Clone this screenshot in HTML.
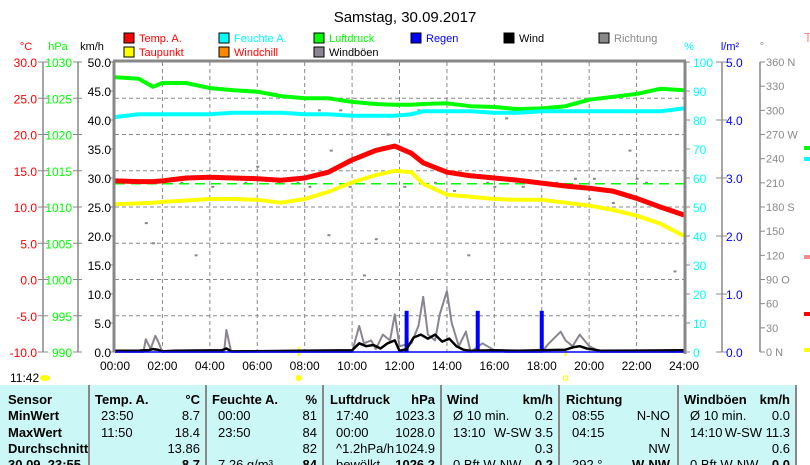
<!DOCTYPE html>
<html><head><meta charset="utf-8">
<style>
body{margin:0;background:#fff;font-family:"Liberation Sans",sans-serif;}
#wrap{position:relative;width:810px;height:465px;overflow:hidden;background:#fff;}
svg text{font-family:"Liberation Sans",sans-serif;}
#chart{position:absolute;left:0;top:0;}
#tbl{position:absolute;left:0;top:385px;width:797px;height:80px;background:#ccf7f7;font-size:13px;color:#000;}
.col{position:absolute;top:0;height:80px;border-left:2px solid #888;}
.cell{position:absolute;white-space:nowrap;}
.b{font-weight:bold;}
</style></head><body>
<div id="wrap">
<svg id="chart" width="810" height="385"></svg>
<div id="tbl"></div>
</div>
<script>
const hours=[0,1,1.6,2,3,4,5,6,7,8,9,10,11,11.8,12.5,13,14,15,16,17,18,19,20,21,22,23,24];
const tempVals=[13.6,13.5,13.5,13.6,14.0,14.1,14.0,13.9,13.7,14.0,14.8,16.5,17.8,18.4,17.4,16.1,14.8,14.3,14.0,13.7,13.3,12.9,12.6,12.2,11.2,10.0,8.9];
const dewVals=[10.4,10.5,10.6,10.7,10.9,11.1,11.1,11.0,10.6,11.1,12.1,13.4,14.4,15.0,14.8,13.2,11.7,11.4,11.1,11.0,11.0,10.6,10.2,9.6,8.8,7.7,6.0];
const pressVals=[1027.9,1027.7,1026.6,1027.1,1027.1,1026.4,1026.1,1025.9,1025.3,1025.0,1025.0,1024.5,1024.2,1024.1,1024.1,1024.2,1024.3,1023.9,1023.8,1023.5,1023.6,1023.9,1024.8,1025.2,1025.6,1026.3,1026.1];
const humVals=[81,82,82,82,82,82,82.5,82.5,82.5,82,82,81.5,81.5,81.5,82,83,83,83,82.5,82.5,83,83,83,83,83,83,84];
const windTimes=[0,1,1.2,1.4,1.6,1.8,2,2.5,4.5,4.7,4.9,7.8,10,10.3,10.6,10.9,11.2,11.5,11.8,12,12.3,12.6,12.9,13.2,13.5,13.8,14.1,14.4,14.7,15,16,17,18,19,19.3,19.6,19.9,20.5,24];
const windVals=[0.2,0.2,0.3,0.3,0.5,0.4,0.1,0.2,0.3,0.6,0.1,0.2,0.3,1.5,1.0,1.2,0.6,1.5,2.0,0.2,0.5,2.5,3.0,2.3,3.0,1.8,2.3,1.0,0.4,0.2,0.3,0.2,0.3,0.4,0.8,1.0,0.6,0.2,0.3];
const gustTimes=[0,1.2,1.3,1.5,1.7,1.8,2,4.6,4.7,4.9,10,10.3,10.5,10.8,11,11.3,11.6,11.8,12,12.5,12.8,13,13.2,13.5,13.7,14,14.2,14.5,14.8,15,15.5,16,16.5,17,17.5,18,18.3,18.8,19,19.3,19.6,20,20.5,24];
const gustVals=[0,0,2.2,0.5,2.8,2.0,0,0,3.8,0,0,4.5,1.5,2.0,0.5,3.0,2.0,6.5,1.0,1.5,4.5,9.5,3.0,2.0,6.5,10.5,5.0,1.0,3.5,0,1.5,0.3,0,0,0,0,1.5,3.5,2.0,1.0,3.0,1.0,0,0];
const rainTimes=[12.3,15.3,18.0];
const rainVals=[0.71,0.71,0.71];
const dirTimes=[1.3,1.6,2.8,3.4,4.1,5.5,6.9,7.7,8.2,8.6,9.1,9.5,9.9,10.5,11.0,11.5,12.2,12.8,13.5,14.3,14.9,15.7,16.5,17.2,17.9,18.6,19.4,20.2,21.0,21.7,22.4,23.1,23.6,3.0,6.0,9.0,13.0,16.0,20.0,22.0];
const dirVals=[160,135,210,120,205,210,210,210,205,300,250,300,205,95,140,270,205,300,210,200,120,210,290,205,300,210,215,215,185,250,210,300,100,215,230,145,300,205,190,215];
const tempTicks=[30,25,20,15,10,5,0,-5,-10];
const pressTicks=[1030,1025,1020,1015,1010,1005,1000,995,990];
const kmTicks=[50,45,40,35,30,25,20,15,10,5,0];
const humTicks=[100,90,80,70,60,50,40,30,20,10,0];
const rainTicks=[5,4,3,2,1,0];
const NS='http://www.w3.org/2000/svg';
const svg=document.getElementById('chart');
const X0=115,X1=684,Y0=62,Y1=352;
const xS=t=>X0+t*(X1-X0)/24;
const yKm=v=>Y1-v*(Y1-Y0)/50;
const yT=v=>Y1-(v+10)*(Y1-Y0)/40;
const yP=v=>Y1-(v-990)*(Y1-Y0)/40;
const yH=v=>Y1-v*(Y1-Y0)/100;
const yR=v=>Y1-v*(Y1-Y0)/5;
const yD=v=>Y1-v*(Y1-Y0)/360;
function mk(tag,attrs,parent){const e=document.createElementNS(NS,tag);for(const k in attrs)e.setAttribute(k,attrs[k]);(parent||svg).appendChild(e);return e;}
function txt(x,y,s,fill,anchor,size){const e=mk('text',{x:x,y:y,fill:fill,'font-size':size||12,'text-anchor':anchor||'start'});e.textContent=s;return e;}
let t=txt(405,22,'Samstag, 30.09.2017','#000','middle',15);

const leg=[['Temp. A.','#f00','#f00',123,42],['Feuchte A.','#0ff','#0ff',218,42],['Luftdruck','#0f0','#0f0',313,42],['Regen','#00f','#00f',410,42],['Wind','#000','#000',503,42],['Richtung','#888','#888',598,42],['Taupunkt','#ff0','#f00',123,56],['Windchill','#f80','#f00',218,56],['Windböen','#8a8490','#000',313,56]];
leg.forEach(l=>{const g=mk('g',{});
mk('rect',{x:l[3]+1,y:l[4]-9,width:10,height:10,fill:l[1],stroke:'#000','stroke-width':1},g);
const e=txt(l[3]+16,l[4],l[0],l[2],'start',11);g.appendChild(e);});
[['°C',26,'#f00'],['hPa',58,'#0f0'],['km/h',92,'#000'],['%',689,'#0ff'],['l/m²',730,'#00f'],['°',762,'#888']].forEach(u=>{const e=txt(u[1],50,u[0],u[2],'middle',11);});
txt(804,42,'T','#f88','start',13);
for(let i=1;i<8;i++){const y=Y0+i*(Y1-Y0)/8;mk('line',{x1:X0,x2:X1,y1:y,y2:y,stroke:'#888','stroke-dasharray':'4,3'});}
for(let h=2;h<24;h+=2){mk('line',{x1:xS(h),x2:xS(h),y1:Y0,y2:Y1,stroke:'#888','stroke-dasharray':'4,3'});}
mk('line',{x1:43,x2:43,y1:Y0,y2:Y1,stroke:'#888','stroke-width':1.5});
mk('line',{x1:78,x2:78,y1:Y0,y2:Y1,stroke:'#888','stroke-width':1.5});
tempTicks.forEach(v=>{const y=yT(v);mk('line',{x1:38,x2:48,y1:y,y2:y,stroke:'#888'});txt(37,y+5,v.toFixed(1),'#f00','end',12);});
pressTicks.forEach(v=>{const y=yP(v);mk('line',{x1:73,x2:82,y1:y,y2:y,stroke:'#888'});txt(72,y+5,String(v),'#0f0','end',12);});
kmTicks.forEach(v=>{const y=yKm(v);mk('line',{x1:110,x2:115,y1:y,y2:y,stroke:'#888'});txt(111,y+5,v.toFixed(1),'#000','end',12);});
humTicks.forEach(v=>{const y=yH(v);mk('line',{x1:684,x2:690,y1:y,y2:y,stroke:'#888'});txt(693,y+5,String(v),'#0ff','start',12);});
mk('line',{x1:722,x2:722,y1:Y0,y2:Y1,stroke:'#888','stroke-width':1.5});
mk('line',{x1:760,x2:760,y1:Y0,y2:Y1,stroke:'#888','stroke-width':1.5});
rainTicks.forEach(v=>{const y=yR(v);mk('line',{x1:716,x2:727,y1:y,y2:y,stroke:'#888'});txt(726,y+5,v.toFixed(1),'#00f','start',12);});
const dLab=['360 N','330','300','270 W','240','210','180 S','150','120','90  O','60','30','0   N'];
dLab.forEach((s,i)=>{const y=Y0+i*(Y1-Y0)/12;mk('line',{x1:760,x2:765,y1:y,y2:y,stroke:'#888'});const e=txt(766,y+4,s,'#888','start',11);e.setAttribute('xml:space','preserve');});
for(let h=0;h<=24;h+=2){txt(xS(h),370,(h<10?'0':'')+h+':00','#000','middle',12);}
txt(10,382,'11:42','#000','start',12);
mk('ellipse',{cx:45,cy:378,rx:5,ry:3,fill:'#ff0'});
mk('line',{x1:xS(7.75),x2:xS(7.75),y1:347,y2:356,stroke:'#ff0','stroke-width':2});
mk('circle',{cx:xS(7.75),cy:378,r:3,fill:'#ff0'});
mk('line',{x1:xS(19),x2:xS(19),y1:349,y2:356,stroke:'#ff0','stroke-width':2});
mk('rect',{x:xS(19)-2,y:376,width:4,height:4,fill:'none',stroke:'#ff0'});
dirTimes.forEach((h,i)=>{const r=mk('rect',{x:xS(h)-1,y:yD(dirVals[i])-1,width:3,height:2,fill:'#888'});});
mk('line',{x1:X0,x2:X1,y1:yT(13.2),y2:yT(13.2),stroke:'#0f0','stroke-width':1.5,'stroke-dasharray':'10,6'});
function line(xs,vals,yf,color,w,name){const p=xs.map((h,i)=>xS(h).toFixed(1)+','+yf(vals[i]).toFixed(1)).join(' ');const e=mk('polyline',{points:p,fill:'none',stroke:color,'stroke-width':w,'stroke-linejoin':'round'});}
line(gustTimes,gustVals,yKm,'#8a8490',2,'gust-line');
rainTimes.forEach((h,i)=>{const r=mk('rect',{x:xS(h)-2,y:yR(rainVals[i]),width:4,height:Y1-yR(rainVals[i]),fill:'#00f'});});
line(windTimes,windVals,yKm,'#000',2.5,'wind-line');
mk('line',{x1:X0,x2:X1,y1:Y1,y2:Y1,stroke:'#00f','stroke-width':1.5});
line(hours,pressVals,yP,'#0f0',4,'pressure-line');
line(hours,humVals,yH,'#0ff',4,'humidity-line');
line(hours,dewVals,yT,'#ff0',4,'dewpoint-line');
line(hours,tempVals,yT,'#f00',5,'temperature-line');
mk('line',{x1:X0-1,x2:X0-1,y1:Y0-1,y2:Y1,stroke:'#888','stroke-width':3});
mk('line',{x1:X0-2,x2:X1+2,y1:Y0-1,y2:Y0-1,stroke:'#888','stroke-width':3});
mk('line',{x1:X1+1,x2:X1+1,y1:Y0-1,y2:Y1+2,stroke:'#888','stroke-width':3});
[[146,'#0f0'],[157,'#0ff'],[255,'#f88'],[312,'#f00'],[348,'#ff0']].forEach(m=>mk('rect',{x:804,y:m[0],width:6,height:4,fill:m[1]}));
const tb=document.getElementById('tbl');
[88,205,322,440,558,677,795].forEach(x=>{const d=document.createElement('div');d.className='col';d.style.left=x+'px';tb.appendChild(d);});
const rows=[19,35,52,68,84];
function cell(x,r,s,cls,w){const d=document.createElement('div');d.className='cell '+(cls||'');d.style.top=(rows[r]-12)+'px';if(w){d.style.left=(x-w)+'px';d.style.width=w+'px';d.style.textAlign='right';}else d.style.left=x+'px';d.textContent=s;tb.appendChild(d);}
['Sensor','MinWert','MaxWert','Durchschnitt','30.09. 23:55'].forEach((s,i)=>cell(8,i,s,'b'));
const cols=[
[95,200,['Temp. A.','°C'],[['23:50','8.7'],['11:50','18.4'],['','13.86'],['','8.7']]],
[212,317,['Feuchte A.','%'],[['00:00','81'],['23:50','84'],['','82'],['7.26 g/m³','84']]],
[330,435,['Luftdruck','hPa'],[['17:40','1023.3'],['00:00','1028.0'],['^1.2hPa/h','1024.9'],['bewölkt','1026.2']]],
[447,553,['Wind','km/h'],[['Ø 10 min.','0.2'],['  13:10','W-SW 3.5'],['','0.3'],['0 Bft W-NW','0.2']]],
[566,670,['Richtung',''],[['08:55','N-NO'],['04:15','N'],['','NW'],['292 °','W-NW']]],
[684,790,['Windböen','km/h'],[['Ø 10 min.','0.0'],['  14:10','W-SW 11.3'],['','0.6'],['0 Bft W-NW','0.0']]]];
cols.forEach(c=>{cell(c[0],0,c[2][0],'b');cell(c[1],0,c[2][1],'b',60);
c[3].forEach((v,i)=>{cell(c[0]+6,i+1,v[0].trim());cell(c[1],i+1,v[1],i==3?'b':'',100);});});
</script>
</body></html>
